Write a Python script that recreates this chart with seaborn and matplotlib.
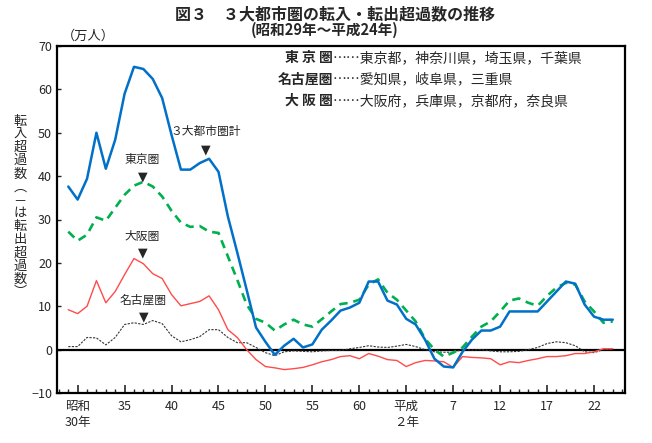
import numpy as np
import pandas as pd
import seaborn as sns
import matplotlib.pyplot as plt
from matplotlib.ticker import MultipleLocator, FixedLocator

# ==========================================
# DATA (万人, 1954 = 昭和29年 ... 2012 = 平成24年)
# ==========================================

years = list(range(1954, 2013))

total = [
    37.6, 34.6, 39.4, 50.0, 41.7, 48.4, 59.0, 65.2, 64.7, 62.4,
    58.0, 49.5, 41.5, 41.5, 43.0, 44.0, 41.0, 30.7, 22.4, 13.8,
    5.1, 1.8, -1.2, 0.9, 2.5, 0.5, 1.2, 4.6, 6.7, 9.0,
    9.7, 10.8, 15.7, 15.7, 11.3, 10.4, 7.1, 5.8, 2.3, -2.1,
    -3.9, -4.1, -0.5, 2.3, 4.4, 4.4, 5.3, 8.8, 8.8, 8.8,
    8.8, 11.1, 13.4, 15.7, 15.2, 10.4, 7.6, 6.9, 6.9,
]

tokyo = [
    27.2, 25.1, 26.5, 30.5, 29.7, 32.7, 35.7, 37.8, 38.7, 37.6,
    35.3, 32.0, 29.3, 28.3, 28.5, 27.2, 26.9, 21.5, 16.1, 10.4,
    7.1, 6.2, 4.4, 5.8, 6.9, 5.8, 5.3, 7.0, 8.8, 10.5,
    10.8, 11.5, 15.0, 16.2, 13.1, 11.5, 9.0, 6.5, 2.5, 0.0,
    -1.6, -0.7, 0.5, 3.0, 5.3, 6.5, 8.8, 11.3, 11.8, 10.8,
    10.1, 12.4, 14.3, 15.4, 15.0, 11.1, 8.8, 6.2, 6.5,
]

osaka = [
    9.2, 8.3, 10.0, 15.9, 10.8, 13.4, 17.3, 21.0, 19.8, 17.5,
    16.4, 12.7, 10.1, 10.6, 11.1, 12.4, 9.2, 4.6, 2.8, 0.0,
    -2.3, -3.9, -4.2, -4.6, -4.4, -4.1, -3.5, -2.8, -2.3, -1.6,
    -1.4, -2.1, -0.9, -1.5, -2.3, -2.5, -3.9, -3.0, -2.5, -2.6,
    -2.8, -4.1, -1.6, -1.8, -1.9, -2.1, -3.5, -2.8, -3.0, -2.5,
    -2.1, -1.6, -1.6, -1.4, -0.9, -0.9, -0.5, 0.2, 0.2,
]

nagoya = [
    0.7, 0.7, 2.8, 2.7, 1.1, 2.8, 5.8, 6.2, 5.8, 6.7,
    6.0, 3.2, 1.8, 2.3, 3.0, 4.6, 4.6, 2.8, 1.6, 1.6,
    0.5, -0.7, -1.4, -0.5, -0.3, -0.4, -0.5, -0.3, -0.2, -0.2,
    0.2, 0.5, 0.9, 0.6, 0.5, 0.8, 1.2, 0.7, 0.0, -0.5,
    -0.6, -0.6, 0.0, -0.1, 0.0, -0.3, -0.5, -0.5, -0.4, 0.0,
    0.5, 1.4, 1.8, 1.6, 0.9, -0.5, -0.7, 0.0, 0.1,
]

major_years = [1955, 1960, 1965, 1970, 1975, 1980, 1985,
               1990, 1995, 2000, 2005, 2010]
major_labels = ["昭和\n30年", "35", "40", "45", "50", "55", "60",
                "平成\n２年", "7", "12", "17", "22"]

legend_keys = ["東 京 圏", "名古屋圏", "大 阪 圏"]
legend_members = ["……東京都，神奈川県，埼玉県，千葉県",
                  "……愛知県，岐阜県，三重県",
                  "……大阪府，兵庫県，京都府，奈良県"]

# label text, label position, arrow position
annotations = [
    ("３大都市圏計", (1968.6, 50.2), (1968.6, 46.0)),
    ("東京圏", (1961.9, 43.8), (1961.9, 39.9)),
    ("大阪圏", (1961.9, 26.0), (1961.9, 22.2)),
    ("名古屋圏", (1962.0, 11.4), (1962.0, 7.5)),
]

df = pd.DataFrame({
    "year": years,
    "total": total,
    "tokyo": tokyo,
    "osaka": osaka,
    "nagoya": nagoya,
})

# ==========================================
# STYLE
# ==========================================

sns.set_style("ticks")
plt.rcParams["font.family"] = ["Noto Sans CJK JP", "DejaVu Sans"]

W, H = 652, 443
fig = plt.figure(figsize=(W / 100, H / 100), dpi=100)
ax = fig.add_axes([57 / W, 1 - 393 / H, (625 - 57) / W, (393 - 46) / H])

ax.axhline(0, color="black", lw=1.6, zorder=1.5)

sns.lineplot(data=df, x="year", y="nagoya", ax=ax, color="#333333",
             lw=0.8, linestyle=(0, (2, 1.2)), zorder=3)
sns.lineplot(data=df, x="year", y="osaka", ax=ax, color="#FF4B4B",
             lw=1.0, zorder=3)
sns.lineplot(data=df, x="year", y="tokyo", ax=ax, color="#00B050",
             lw=1.9, linestyle=(0, (3.2, 2.2)), zorder=3)
sns.lineplot(data=df, x="year", y="total", ax=ax, color="#0070C8",
             lw=1.8, zorder=4)

# ==========================================
# AXES
# ==========================================

ax.set_xlim(1952.8, 2013.3)
ax.set_ylim(-10, 70)
ax.yaxis.set_major_locator(MultipleLocator(10))
ax.xaxis.set_major_locator(FixedLocator(major_years))
ax.xaxis.set_minor_locator(MultipleLocator(1))
ax.set_xticklabels(major_labels, fontsize=9, linespacing=1.3, va="top")
ax.tick_params(axis="y", labelsize=9, direction="in", length=3, width=1)
ax.tick_params(axis="x", which="major", direction="in", length=6,
               width=1.2, pad=5)
ax.tick_params(axis="x", which="minor", direction="in", length=3, width=1)
for lbl in ax.get_xticklabels():
    lbl.set_horizontalalignment("center")

ax.set_xlabel("")
ax.set_ylabel("")
for sp in ax.spines.values():
    sp.set_color("black")
    sp.set_linewidth(1.6)

# ==========================================
# ANNOTATIONS
# ==========================================

for text, (tx, ty), (mx, my) in annotations:
    ax.text(tx, ty, text, fontsize=8.5, ha="center", va="center")
    ax.text(mx, my, "▼", fontsize=9, ha="center", va="center",
            family=["DejaVu Sans"])

# ==========================================
# TITLES AND LEGEND TEXT
# ==========================================

fig.text(335 / W, 1 - 14 / H, "図３　３大都市圏の転入・転出超過数の推移",
         fontsize=11.5, fontweight="bold", ha="center", va="center")
fig.text(325 / W, 1 - 30 / H, "(昭和29年～平成24年)",
         fontsize=10.5, fontweight="bold", ha="center", va="center")
fig.text(62 / W, 1 - 36 / H, "（万人）", fontsize=9.5, ha="left",
         va="center")

ylab = "\n".join(list("転入超過数︵－は転出超過数︶"))
fig.text(20 / W, 1 - 207 / H, ylab, fontsize=9.5, ha="center",
         va="center", linespacing=1.02)

for i, (key, members) in enumerate(zip(legend_keys, legend_members)):
    y = 1 - (58 + i * 21.5) / H
    fig.text(333 / W, y, key, fontsize=10, fontweight="bold",
             ha="right", va="center")
    fig.text(333 / W, y, members, fontsize=10, ha="left", va="center")

fig.savefig("out.png", dpi=100)
